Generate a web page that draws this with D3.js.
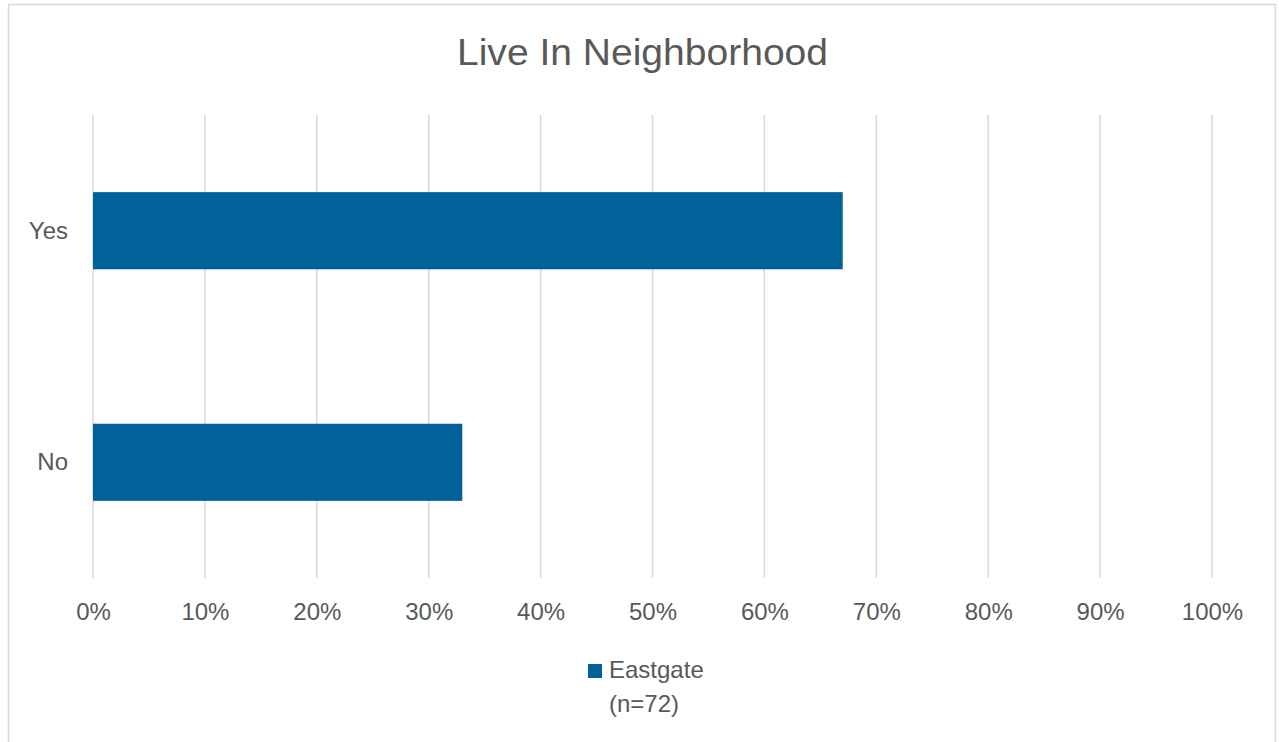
<!DOCTYPE html>
<html><head><meta charset="utf-8">
<script src="https://cdn.jsdelivr.net/npm/d3@7"></script>
<style>html,body{margin:0;padding:0;background:#fff;}svg{display:block;}</style>
</head><body>
<script>
const categories = ["Yes", "No"];
const values = [67, 33];
const tickValues = [0,10,20,30,40,50,60,70,80,90,100];
const tickLabels = ["0%","10%","20%","30%","40%","50%","60%","70%","80%","90%","100%"];
const seriesName = ["Eastgate", "(n=72)"];
const title = "Live In Neighborhood";

const W = 1279, H = 742;
const font = "'Liberation Sans', Arial, sans-serif";
const svg = d3.select("body").append("svg").attr("width", W).attr("height", H);
svg.append("rect").attr("x",0).attr("y",0).attr("width",W).attr("height",H).attr("fill","#fff");
// outer border
svg.append("rect").attr("x",8.5).attr("y",4.5).attr("width",1267).attr("height",760)
  .attr("fill","none").attr("stroke","#d9d9d9").attr("stroke-width",1.5);

const x = d3.scaleLinear().domain([0,100]).range([93,1212]);
const y = d3.scaleBand().domain(categories).range([115,578]).paddingInner(0.667).paddingOuter(0.333);

// gridlines
svg.append("g").selectAll("line").data(tickValues).join("line")
  .attr("x1", d=>x(d)).attr("x2", d=>x(d)).attr("y1",115).attr("y2",578)
  .attr("stroke","#d9d9d9").attr("stroke-width",1.5);

// bars
svg.append("g").selectAll("rect").data(categories).join("rect")
  .attr("x", x(0)).attr("y", d=>y(d))
  .attr("width", (d,i)=>x(values[i])-x(0)).attr("height", y.bandwidth())
  .attr("fill","#006298");

// x axis labels
const xa = d3.axisBottom(x).tickValues(tickValues).tickFormat((d,i)=>tickLabels[i]).tickSize(0).tickPadding(0);
const gx = svg.append("g").attr("transform","translate(0,620)").call(xa);
gx.select(".domain").remove();
gx.selectAll("text").attr("font-family",font).attr("font-size","24px").attr("fill","#595959").attr("dy",0);

// y axis labels
const ya = d3.axisLeft(y).tickSize(0).tickPadding(0);
const gy = svg.append("g").attr("transform","translate(68,0)").call(ya);
gy.select(".domain").remove();
gy.selectAll("text").attr("font-family",font).attr("font-size","24px").attr("fill","#595959").attr("dy","0.33em");

// title
svg.append("text").attr("x",642.5).attr("y",65).attr("text-anchor","middle")
  .attr("font-family",font).attr("font-size","36px").attr("fill","#595959")
  .attr("textLength",371).attr("lengthAdjust","spacingAndGlyphs").text(title);

// legend
svg.append("rect").attr("x",588).attr("y",664).attr("width",14).attr("height",14).attr("fill","#006298");
const lt = svg.append("text").attr("font-family",font).attr("font-size","24px").attr("fill","#595959");
lt.selectAll("tspan").data(seriesName).join("tspan").attr("x",609).attr("y",(d,i)=>678+i*34).text(d=>d);
</script>
</body></html>
